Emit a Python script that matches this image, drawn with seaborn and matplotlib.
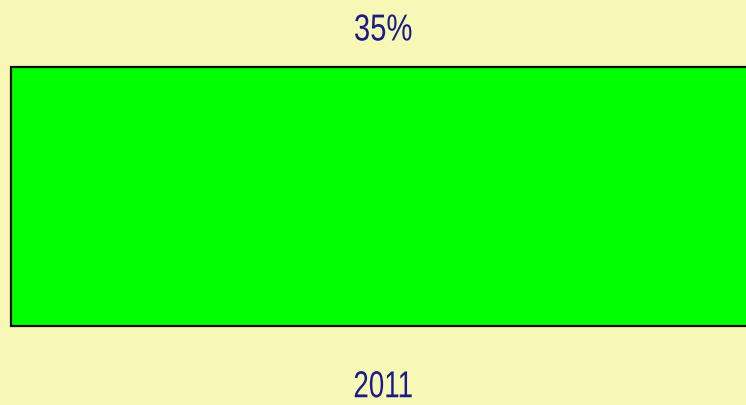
import matplotlib
matplotlib.use("Agg")
import matplotlib.pyplot as plt
import pandas as pd
import seaborn as sns
from matplotlib.patheffects import AbstractPathEffect
from matplotlib.transforms import Affine2D

# data
years = ["2011"]
shares = [35]

BG = "#F7F7B6"
BAR = "#00FF00"
INK = "#1A1A88"
FONT = ["Liberation Sans Narrow", "Liberation Sans", "DejaVu Sans"]


class Condense(AbstractPathEffect):
    """Squeeze text horizontally around its own centre (no narrow font installed)."""

    def __init__(self, sx=0.78):
        super().__init__()
        self.sx = sx

    def draw_path(self, renderer, gc, tpath, affine, rgbFace=None):
        ext = tpath.get_extents()
        cx = (ext.x0 + ext.x1) / 2
        t = Affine2D().translate(-cx, 0).scale(self.sx, 1).translate(cx, 0) + affine
        renderer.draw_path(gc, tpath, t, rgbFace)


sns.set_theme(style="white")
plt.rcParams["font.family"] = FONT

df = pd.DataFrame({"year": years, "share": shares})

fig = plt.figure(figsize=(7.46, 4.06), dpi=100, facecolor=BG)
W, H = 746, 406
left, right, top, bottom = 10.5, 756, 67.5, 326.5
ax = fig.add_axes([left / W, (H - bottom) / H, (right - left) / W, (bottom - top) / H])
ax.set_facecolor(BG)

sns.barplot(data=df, x="year", y="share", color=BAR, saturation=1, width=1.0,
            edgecolor="#111111", linewidth=1.6, ax=ax)
for p in ax.patches:
    p.set_clip_on(False)

ax.set_ylim(0, max(shares))
ax.set_xlim(-0.5, 0.5)
labels = ax.bar_label(ax.containers[0], labels=[f"{v}%" for v in shares], padding=13,
                      fontsize=27, color=INK)
for t in labels:
    t.set_path_effects([Condense(0.78)])

ax.set_xlabel("")
ax.set_ylabel("")
ax.set_yticks([])
ax.tick_params(axis="x", length=0, pad=31.5, labelsize=27, labelcolor=INK)
for t in ax.get_xticklabels():
    t.set_path_effects([Condense(0.74)])
sns.despine(ax=ax, left=True, bottom=True)

fig.savefig("out.png", dpi=100, facecolor=BG)
